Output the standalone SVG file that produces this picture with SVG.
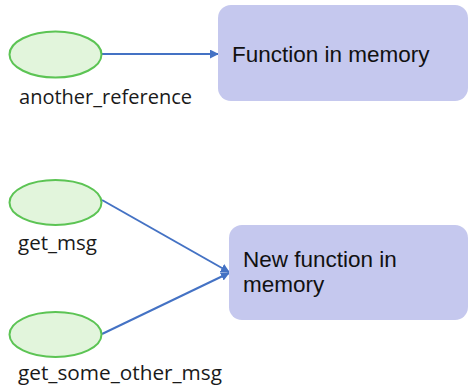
<svg xmlns="http://www.w3.org/2000/svg" width="469" height="391" viewBox="0 0 469 391">
<defs>
<style>
.ell{fill:#e2f5dc;stroke:#5cc454;stroke-width:2}
.box{fill:#c5c8ee}
.lbl{font-family:"Open Sans","Noto Sans",sans-serif;font-size:20px;fill:#1a1a1a}
.btxt{font-family:"Liberation Sans",Arial,sans-serif;font-size:22.5px;fill:#111}
.con{stroke:#4472c4;stroke-width:2;fill:none;marker-end:url(#arr)}
</style>
<marker id="arr" viewBox="0 0 10 10" refX="9" refY="5" markerWidth="4.5" markerHeight="4.5" orient="auto" markerUnits="strokeWidth">
<path d="M0,0 L10,5 L0,10 z" fill="#4472c4"/>
</marker>
</defs>
<rect width="469" height="391" fill="#fff"/>
<g id="connectors">
<line class="con" x1="102" y1="54" x2="218" y2="54"/>
<line class="con" x1="102" y1="200" x2="229" y2="272"/>
<line class="con" x1="102" y1="334" x2="229" y2="273"/>
</g>
<g id="another_reference">
<ellipse class="ell" cx="55.5" cy="54.5" rx="46" ry="23"/>
<text class="lbl" x="19" y="104" textLength="173" lengthAdjust="spacingAndGlyphs">another_reference</text>
</g>
<g id="get_msg">
<ellipse class="ell" cx="55.5" cy="202.5" rx="46" ry="22.5"/>
<text class="lbl" x="18" y="250" textLength="79" lengthAdjust="spacingAndGlyphs">get_msg</text>
</g>
<g id="get_some_other_msg">
<ellipse class="ell" cx="55.5" cy="334.5" rx="46" ry="22.5"/>
<text class="lbl" x="18" y="380" textLength="204" lengthAdjust="spacingAndGlyphs">get_some_other_msg</text>
</g>
<g id="function_in_memory">
<rect class="box" x="218" y="5" width="250" height="96" rx="13"/>
<text class="btxt" x="232" y="62">Function in memory</text>
</g>
<g id="new_function_in_memory">
<rect class="box" x="229" y="225" width="239" height="95" rx="13"/>
<text class="btxt" x="243" y="267">New function in</text>
<text class="btxt" x="243" y="292">memory</text>
</g>
</svg>
